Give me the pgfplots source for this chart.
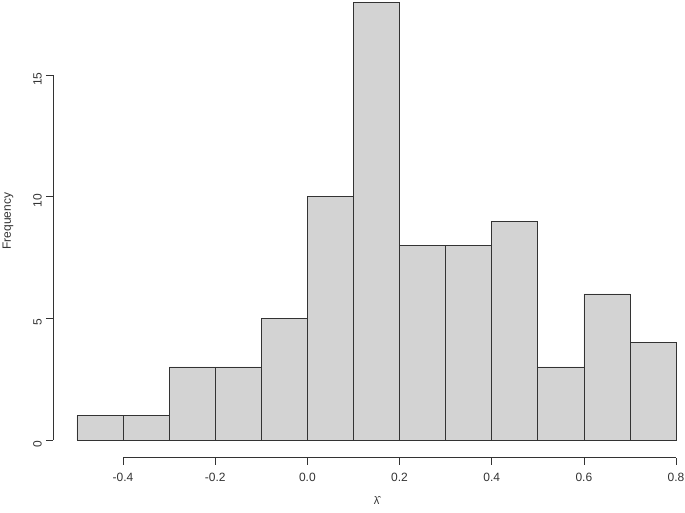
\documentclass[border=0pt]{standalone}
\usepackage{fontspec}
\setmainfont{Liberation Sans}
\usepackage{pgfplots}
\pgfplotsset{compat=1.18}
\definecolor{barfill}{HTML}{D3D3D3}
\definecolor{axcol}{HTML}{333333}
\begin{document}
\fontsize{12}{14}\selectfont
\begin{tikzpicture}[x=1pt,y=1pt]
\begin{axis}[
  at={(0,0)}, anchor=south west,
  scale only axis, width=647pt, height=473pt,
  xmin=-0.552, xmax=0.852, ymin=-0.72, ymax=18.72,
  axis x line*=bottom, axis y line*=left,
  axis line style={draw=none},
  xtick={-0.4,-0.2,0,0.2,0.4,0.6,0.8},
  xticklabels={-0.4,-0.2,0.0,0.2,0.4,0.6,0.8},
  ytick={0,5,10,15},
  yticklabels={0,5,10,15},
  tick align=outside, major tick length=7pt,
  tick style={axcol, line width=0.75pt},
  ticklabel style={font=\fontsize{12}{14}\selectfont, text=axcol},
  xticklabel style={yshift=-4pt},
  yticklabel style={rotate=90, anchor=south, xshift=-4pt},
  clip=false,
]
\addplot[ybar interval, fill=barfill, draw=black!80, line width=0.75pt] coordinates {
(-0.5,1) (-0.4,1) (-0.3,3) (-0.2,3) (-0.1,5) (0.0,10) (0.1,18) (0.2,8) (0.3,8) (0.4,9) (0.5,3) (0.6,6) (0.7,4) (0.8,4)
};
\draw[axcol, line width=0.75pt] (axis cs:-0.4,-0.72) -- (axis cs:0.8,-0.72);
\draw[axcol, line width=0.75pt] (axis cs:-0.552,0) -- (axis cs:-0.552,15);
\node[text=axcol, font=\fontsize{11}{13}\selectfont] at (axis cs:0.15,-2.5) {λ̂};
\node[text=axcol, rotate=90, font=\fontsize{12}{14}\selectfont] at ([xshift=-45pt]axis cs:-0.552,9) {Frequency};
\end{axis}
\pgfresetboundingbox
\path[use as bounding box] (-53,-54.5) rectangle (632,457.5);
\end{tikzpicture}
\end{document}
